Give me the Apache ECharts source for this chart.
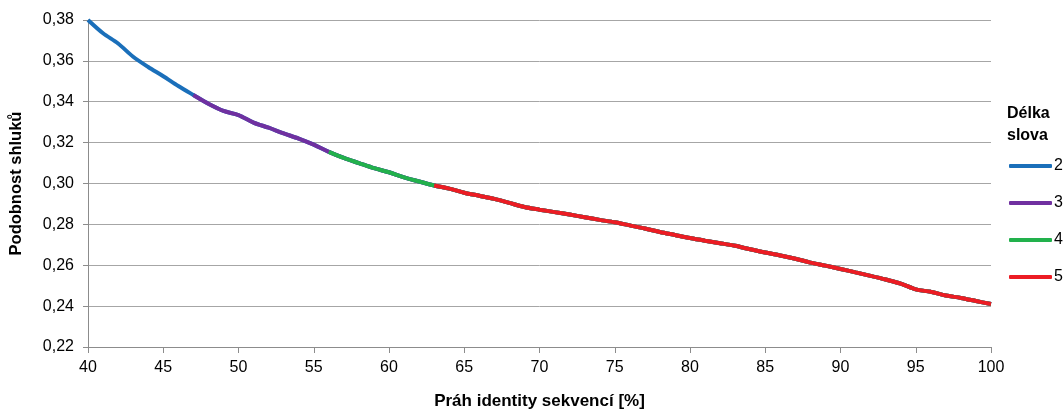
<!DOCTYPE html>
<html><head><meta charset="utf-8">
<script src="https://cdn.jsdelivr.net/npm/echarts@6/dist/echarts.min.js"></script>
<style>html,body{margin:0;padding:0;background:#fff}#c{width:1064px;height:410px}</style>
</head><body><div id="c"></div>
<script>
const xValues = [40,41,42,43,44,45,46,47,48,49,50,51,52,53,54,55,56,57,58,59,60,61,62,63,64,65,66,67,68,69,70,71,72,73,74,75,76,77,78,79,80,81,82,83,84,85,86,87,88,89,90,91,92,93,94,95,96,97,98,99,100];
const similarity = [0.380,0.3735,0.3685,0.3620,0.3570,0.3525,0.3477,0.3433,0.3390,0.3355,0.3335,0.3298,0.3273,0.3245,0.3220,0.3190,0.3155,0.3125,0.3100,0.3075,0.3055,0.3030,0.3010,0.2990,0.2975,0.2955,0.2940,0.2925,0.2905,0.2885,0.2872,0.2860,0.2848,0.2835,0.2822,0.2810,0.2795,0.2780,0.2763,0.2748,0.2733,0.2720,0.2708,0.2695,0.2678,0.2662,0.2648,0.2632,0.2613,0.2598,0.2582,0.2565,0.2548,0.2530,0.2510,0.2482,0.2470,0.2452,0.2440,0.2425,0.2410];
const seriesNames = ['2','3','4','5'];
const seriesStart = [40,47,56,63];
const seriesColors = ['#1a6fba','#7030a0','#22b14c','#ec1c24'];
const xTicks = {min:40,max:100,interval:5};
const yTicks = {min:0.22,max:0.38,interval:0.02};

const font = "'Liberation Sans',sans-serif";
const chart = echarts.init(document.getElementById('c'));
chart.setOption({
  animation:false,
  grid:{left:88,right:73,top:20,bottom:63,containLabel:false,outerBoundsMode:'none'},
  xAxis:{type:'value',min:xTicks.min,max:xTicks.max,interval:xTicks.interval,
    name:'Práh identity sekvencí [%]',nameLocation:'middle',nameGap:46,
    nameTextStyle:{fontFamily:font,fontWeight:'bold',fontSize:17,color:'#000'},
    axisLine:{lineStyle:{color:'#8c8c8c'}},axisTick:{length:6,lineStyle:{color:'#8c8c8c'}},
    axisLabel:{fontFamily:font,fontSize:16,color:'#000',margin:13},
    splitLine:{show:false}},
  yAxis:{type:'value',min:yTicks.min,max:yTicks.max,interval:yTicks.interval,
    name:'Podobnost shluků',nameLocation:'middle',nameGap:63,
    nameTextStyle:{fontFamily:font,fontWeight:'bold',fontSize:16.5,color:'#000'},
    axisLine:{show:true,lineStyle:{color:'#8c8c8c'}},axisTick:{show:true,length:5,lineStyle:{color:'#8c8c8c'}},
    axisLabel:{fontFamily:font,fontSize:16,color:'#000',margin:14,formatter:v=>v.toFixed(2).replace('.',',')},
    splitLine:{lineStyle:{color:'#a6a6a6',width:1}}},
  legend:{orient:'vertical',left:1009,top:158,padding:0,itemWidth:43,itemHeight:4,itemGap:21,
    textStyle:{fontFamily:font,fontSize:16,color:'#000',padding:[0,0,0,-3]},
    data:seriesNames.map(n=>({name:n,icon:'roundRect'}))},
  graphic:[{type:'text',left:1007,top:103,style:{text:'Délka\nslova',font:"bold 16px "+font,fill:'#000',lineHeight:22}}],
  series:seriesNames.map((n,i)=>({
    name:n,type:'line',symbol:'none',smooth:0.3,
    itemStyle:{color:seriesColors[i]},
    lineStyle:{width:4,color:seriesColors[i]},
    data:xValues.map((x,j)=>[x,similarity[j]]).filter(p=>p[0]>=seriesStart[i])
  }))
});
</script></body></html>
